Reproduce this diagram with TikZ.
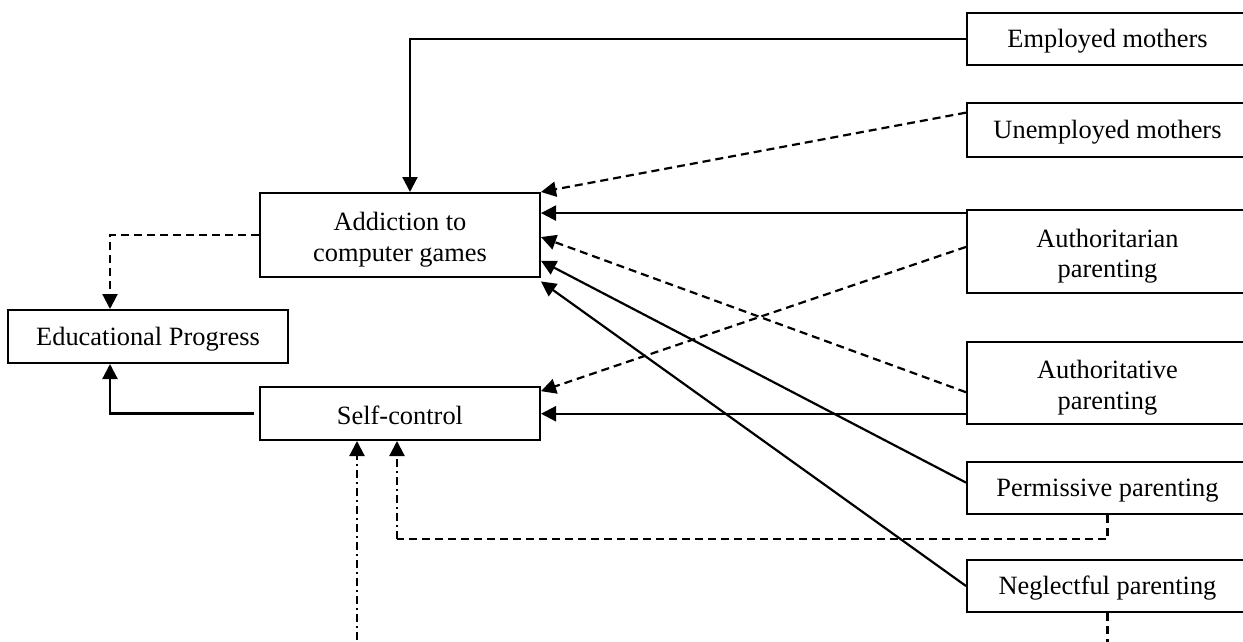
\documentclass[tikz,border=0pt]{standalone}
\usepackage{fontspec}
\setmainfont{Liberation Serif}
\usetikzlibrary{arrows.meta,calc}
\newcommand\myonestrut{\rule{0pt}{23pt}}
\newcommand\mytwostrut{\rule{0pt}{28pt}}
\begin{document}
\begin{tikzpicture}[x=1pt,y=-1pt,
  box/.style={draw,line width=2pt,inner sep=0pt,align=center,
    font=\fontsize{26.4}{30.5}\selectfont},
  conn/.style={line width=2.2pt},
  tip/.style={-{Triangle[length=15pt,width=15pt]}},
  dsh/.style={dash pattern=on 8pt off 5pt},
  dshdot/.style={dash pattern=on 8pt off 4pt on 2pt off 4pt}]
\useasboundingbox (0,0) rectangle (1243,642);
\clip (0,0) rectangle (1243,642);
% right-hand boxes
\node[box,minimum width=281pt,minimum height=52pt] (emp) at (1107.5,39) {\myonestrut Employed mothers};
\node[box,minimum width=281pt,minimum height=54pt] (unemp) at (1107.5,130) {\myonestrut Unemployed mothers};
\node[box,minimum width=281pt,minimum height=83pt] (auta) at (1107.5,251.5) {\mytwostrut Authoritarian\\parenting};
\node[box,minimum width=281pt,minimum height=82pt] (autv) at (1107.5,383) {\mytwostrut Authoritative\\parenting};
\node[box,minimum width=281pt,minimum height=52pt] (perm) at (1107.5,488) {\myonestrut Permissive parenting};
\node[box,minimum width=281pt,minimum height=52pt] (negl) at (1107.5,586) {\myonestrut Neglectful parenting};
% left-hand boxes
\node[box,minimum width=280pt,minimum height=84pt] (add) at (400,235) {\mytwostrut Addiction to\\computer games};
\node[box,minimum width=280pt,minimum height=53pt] (edu) at (148,336.5) {\myonestrut Educational Progress};
\node[box,minimum width=280pt,minimum height=53pt] (self) at (400,413.5) {\myonestrut Self-control};
% helper points
\coordinate (addtop) at ([xshift=10pt]add.north);
\coordinate (a1) at ($(add.north east)!0.262!(add.south east)$);
\coordinate (a2) at ($(add.north east)!0.524!(add.south east)$);
\coordinate (a3) at ($(add.north east)!0.80!(add.south east)$);
\coordinate (a4) at ($(add.north east)!1.04!(add.south east)$);
\coordinate (s1) at ($(self.north east)!0.094!(self.south east)$);
\coordinate (s2) at ($(self.north east)!0.49!(self.south east)$);
\coordinate (un1) at ($(unemp.north west)!0.19!(unemp.south west)$);
\coordinate (ta1) at ($(auta.north west)!0.048!(auta.south west)$);
\coordinate (ta2) at ($(auta.north west)!0.446!(auta.south west)$);
\coordinate (tv1) at ($(autv.north west)!0.61!(autv.south west)$);
\coordinate (tv2) at ($(autv.north west)!0.866!(autv.south west)$);
\coordinate (pm1) at ($(perm.north west)!0.4!(perm.south west)$);
\coordinate (edutop) at ([xshift=-38pt]edu.north);
\coordinate (edubot) at ([xshift=-38pt]edu.south);
\coordinate (selfL) at ([xshift=-5pt]self.west);
\coordinate (sb1) at ([xshift=-43pt]self.south);
\coordinate (sb2) at ([xshift=-3pt]self.south);
\coordinate (pmdown) at ($(perm.south)+(0,24)$);
\coordinate (pmleft) at (pmdown -| sb2);
\coordinate (ngdown) at ($(negl.south)+(0,45)$);
\coordinate (sbfree) at (sb1 |- ngdown);
% connectors
\draw[conn,tip] (emp.west) -| (addtop);
\draw[conn,tip,dsh] (un1) -- (add.north east);
\draw[conn,tip] (ta1) -- (ta1 -| a1);
\draw[conn,tip,dsh] (ta2) -- (s1);
\draw[conn,tip,dsh] (tv1) -- (a2);
\draw[conn,tip] (tv2) -- (tv2 -| s2);
\draw[conn,tip] (pm1) -- (a3);
\draw[conn,tip] (negl.west) -- (a4);
\draw[conn,tip,dsh] (add.west) -| (edutop);
\draw[conn,tip] (selfL) -| (edubot);
\draw[conn,dsh] (perm.south) -- (pmdown) -- (pmleft);
\draw[conn,tip,dshdot] (pmleft) -- (sb2);
\draw[conn,dsh] (negl.south) -- (ngdown);
\draw[conn,tip,dshdot] (sbfree) -- (sb1);
\end{tikzpicture}
\end{document}
